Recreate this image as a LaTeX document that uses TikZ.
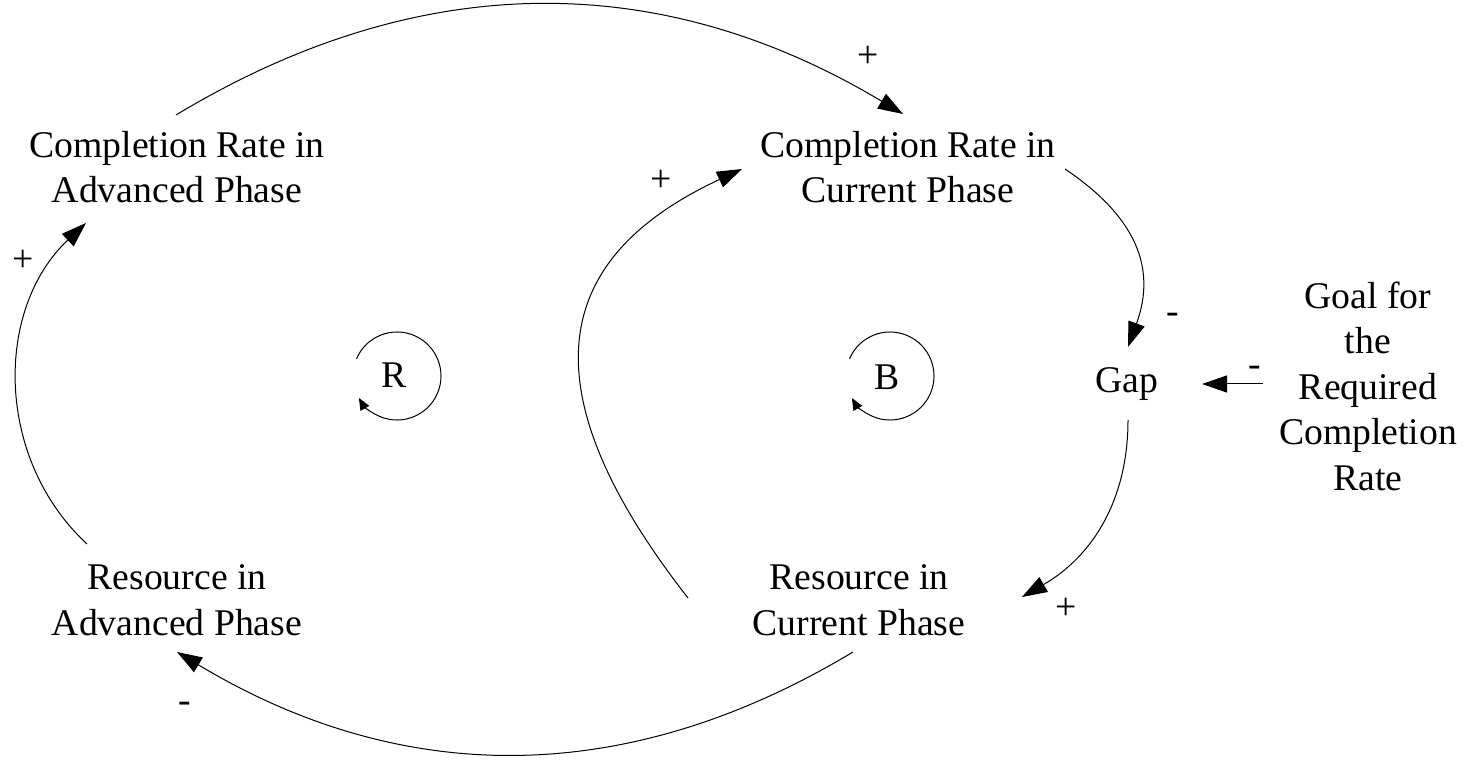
\documentclass[tikz,border=0pt]{standalone}
\usepackage{fontspec}
\setmainfont{Liberation Serif}
\usetikzlibrary{arrows.meta,calc}
\tikzset{
  txt/.style={font=\fontsize{37.7}{45.5}\selectfont, align=center, inner sep=0pt},
  sgn/.style={font=\fontsize{37.7}{45.5}\selectfont, inner sep=0pt},
  link/.style={line width=1pt, -{Triangle[length=25pt,width=17pt]}},
  loopar/.style={line width=1pt, -{Triangle[length=12pt,width=10pt]}}
}
\begin{document}
\begin{tikzpicture}[x=1pt,y=1pt]
\useasboundingbox (0,0) rectangle (1466,761);
% nodes
\node[txt] (CRA) at (177,594) {Completion Rate in\\Advanced Phase};
\node[txt] (CRC) at (908,594) {Completion Rate in\\Current Phase};
\node[txt] (Gap) at (1127,377) {Gap};
\node[txt] (Goal) at (1368,375) {Goal for\\the\\Required\\Completion\\Rate};
\node[txt] (RCP) at (859,161) {Resource in\\Current Phase};
\node[txt] (RAP) at (177,161) {Resource in\\Advanced Phase};
\coordinate (Rc) at (397,385);
\coordinate (Bc) at (890,385);
\node[sgn] (Rt) at (394,386) {R};
\node[sgn] (Bt) at (887,384) {B};
% loops
\draw[loopar] ([shift={(157:44)}]Rc) arc[start angle=157, end angle=-150, radius=44];
\draw[loopar] ([shift={(157:44)}]Bc) arc[start angle=157, end angle=-150, radius=44];
% connectors
\draw[link] ($(CRA)+(-1,52)$) to[bend left=31] ($(CRC)+(-5,53)$);
\draw[link] ($(RAP)+(-90,56)$) to[bend left=47] ($(CRA)+(-91,-56)$);
\draw[link] ($(RCP)+(-171,2)$) .. controls +(128:290) and +(205:190) .. ($(CRC)+(-166,-2)$);
\draw[link] ($(CRC)+(157,-2)$) to[out=-34,in=70,looseness=1.15] ($(Gap)+(1,37)$);
\draw[link] ($(Gap)+(1,-36)$) to[out=-90,in=30] ($(RCP)+(163,3)$);
\draw[link] ($(RCP)+(-6,-52)$) to[bend left=31] ($(RAP)+(0,-52)$);
\draw[link] ($(Goal)+(-105,2)$) -- ($(Gap)+(75,0)$);
% signs
\node[sgn] (s1) at (868,704) {+};
\node[sgn] (s2) at (661,580) {+};
\node[sgn] (s3) at (23,500) {+};
\node[sgn] (s4) at (1173,443) {-};
\node[sgn] (s5) at (1255,390) {-};
\node[sgn] (s6) at (1066,152) {+};
\node[sgn] (s7) at (185,54) {-};
\end{tikzpicture}
\end{document}
